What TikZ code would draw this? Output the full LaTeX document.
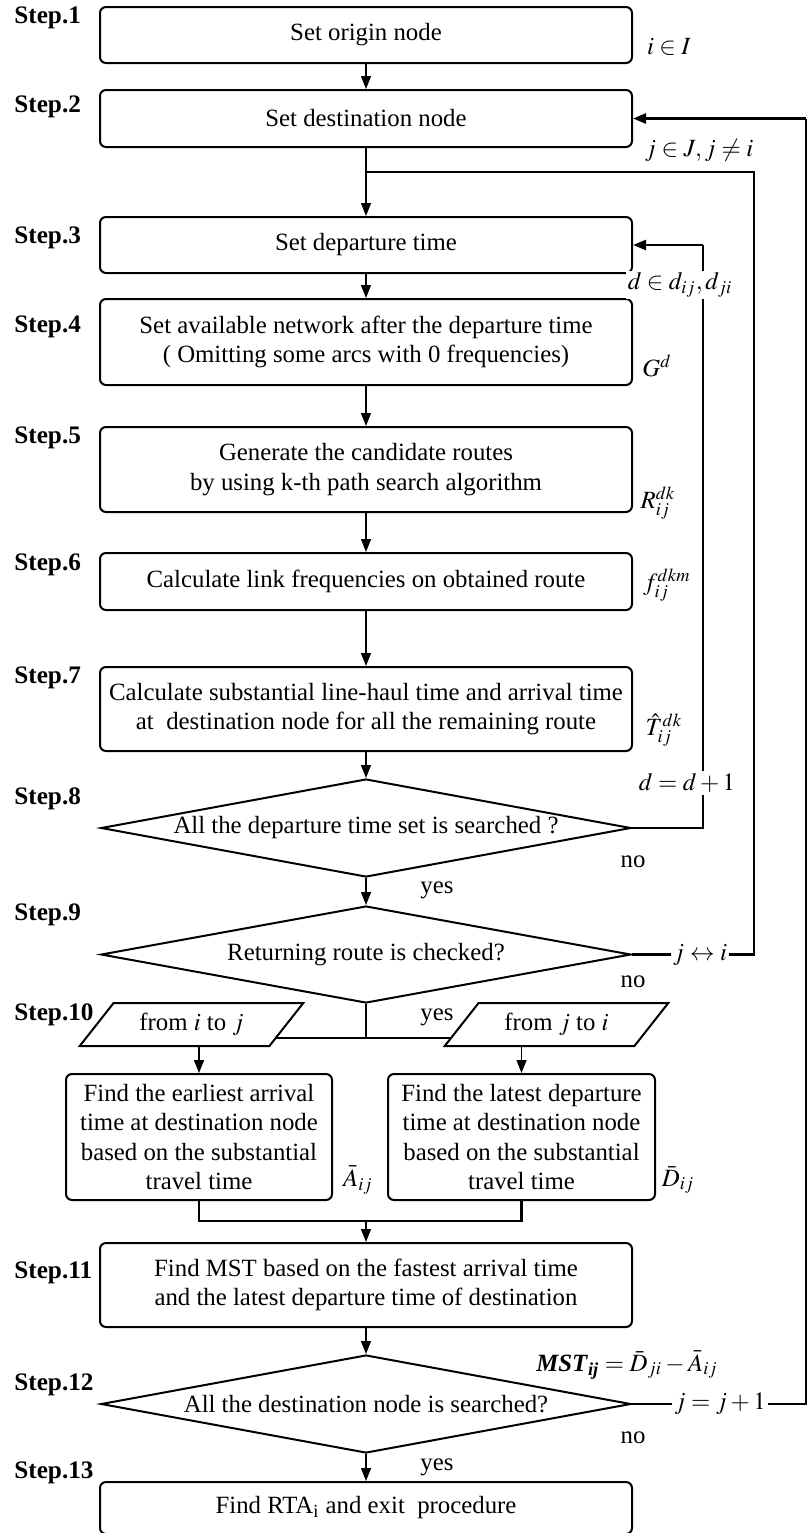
\documentclass[tikz,border=0pt]{standalone}
\usepackage{amsmath}
\usepackage{mathptmx}
\usepackage[no-math]{fontspec}
\setmainfont{Liberation Serif}
\usetikzlibrary{shapes.geometric,arrows.meta,backgrounds}

\begin{document}
\begin{tikzpicture}[x=0.5pt,y=-0.5pt,
		font=\fontsize{12.4}{14.7}\selectfont,
		box/.style={draw,rounded corners=3pt,line width=1pt,minimum width=266pt,inner sep=0pt,align=center},
		ask/.style={draw,diamond,aspect=5.4,line width=1pt,minimum width=265pt,minimum height=49pt,inner sep=0pt},
		io/.style={draw,trapezium,trapezium left angle=45,trapezium right angle=135,trapezium stretches=true,line width=1pt,minimum width=112.5pt,minimum height=21.5pt,inner sep=0pt,fill=white},
		flow/.style={line width=0.7pt,-{Triangle[length=6.5pt,width=5pt]}},
		back/.style={line width=1.2pt},
		lbl/.style={fill=white,inner sep=1pt}]
		\useasboundingbox (0,0) rectangle (810,1533);
		
		\foreach \n/\y in {1/18,2/107,3/238,4/327,5/438,6/565,7/678,8/799,9/915,10/1015,11/1273,12/1385,13/1473}
		{
			\node[anchor=west,inner sep=0pt,font=\fontsize{12.6}{14.7}\selectfont\bfseries] (step\n) at (14,\y) {Step.\n};
		}
		
		\node[box,minimum height=28pt] (b1) at (366,35) {Set origin node};
		\node[box,minimum height=28.5pt] (b2) at (366,118.5) {Set destination node};
		\node[box,minimum height=28pt] (b3) at (366,245) {Set departure time};
		\node[box,minimum height=43pt] (b4) at (366,342) {Set available network after the departure time\\( Omitting some arcs with 0 frequencies)};
		\node[box,minimum height=42.5pt] (b5) at (366,469.5) {Generate the candidate routes\\by using k-th path search algorithm};
		\node[box,minimum height=28.5pt] (b6) at (366,581.5) {Calculate link frequencies on obtained route};
		\node[box,minimum height=42pt] (b7) at (366,709) {Calculate substantial line-haul time and arrival time\\at\ \ destination node for all the remaining route};
		\node[ask] (d8) at (366,828) {All the departure time set is searched ?};
		\node[ask,minimum height=48.5pt] (d9) at (366,954.5) {Returning route is checked?};
		\node[io] (p1) at (191.5,1024.5) {from $i$ to $j$};
		\node[io] (p2) at (556.5,1024.5) {from $j$ to $i$};
		\node[box,minimum width=133pt,minimum height=63pt] (bA) at (199,1137) {Find the earliest arrival\\time at destination node\\based on the substantial\\travel time};
		\node[box,minimum width=133.5pt,minimum height=63pt] (bB) at (521.5,1137) {Find the latest departure\\time at destination node\\based on the substantial\\travel time};
		\node[box,minimum height=42pt] (b11) at (366,1285) {Find MST based on the fastest arrival time\\and the latest departure time of destination};
		\node[ask] (d12) at (366,1404) {All the destination node is searched?};
		\node[box,minimum height=26pt] (b13) at (366,1508) {Find RTA\textsubscript{i} and exit\ \ procedure};
		
		\coordinate (split) at (366,1038);
		\coordinate (merge) at (366,1221);
		\coordinate (r8) at (703,245);
		\coordinate (r9) at (754,172);
		\coordinate (j9) at (366,172);
		\coordinate (r12) at (806,118.5);
		
		% main line
		\draw[flow] (b1) -- (b2);
		\draw[flow] (b2) -- (b3);
		\draw[flow] (b3) -- (b4);
		\draw[flow] (b4) -- (b5);
		\draw[flow] (b5) -- (b6);
		\draw[flow] (b6) -- (b7);
		\draw[flow] (b7) -- (d8);
		\draw[flow] (d8) -- (d9);
		\draw[line width=0.7pt] (d9.south) -- (split);
		\begin{scope}[on background layer]
			\draw[back] (split -| p1.center) -- (split -| p2.center);
		\end{scope}
		\draw[flow] (p1.south -| bA.north) -- (bA.north);
		\draw[flow] (p2.south -| bB.north) -- (bB.north);
		\draw[back] (bA.south) |- (merge) -| (bB.south);
		\draw[flow] (merge) -- (b11);
		\draw[flow] (b11) -- (d12);
		\draw[flow] (d12) -- (b13);
		
		% loops back
		\draw[back] (d8.east) -| (r8);
		\draw[back,-{Triangle[length=6.5pt,width=5pt]}] (r8) -- (b3.east);
		\draw[back] (d9.east) -| (r9) -- (j9);
		\draw[back] (d12.east) -| (r12);
		\draw[back,-{Triangle[length=6.5pt,width=5pt]}] (r12) -- (b2.east);
		
		\node[inner sep=1pt] (lI) at (669,47) {$i\in I$};
		\node[inner sep=1pt] (lJ) at (699,150) {$j\in J, j\neq i$};
		\node[lbl] (lD) at (680,285) {$d\in d_{ij}, d_{ji}$};
		\node[inner sep=1pt] (lG) at (657,366) {$G^{d}$};
		\node[inner sep=1pt] (lR) at (658,503) {$R_{ij}^{dk}$};
		\node[inner sep=1pt] (lf) at (667,585) {$f_{ij}^{dkm}$};
		\node[inner sep=1pt] (lT) at (664,730) {$\hat{T}_{ij}^{dk}$};
		\node[lbl] (ld) at (687,783) {$d=d+1$};
		\node[lbl] (lji) at (700,955) {$j\leftrightarrow i$};
		\node[lbl] (lj) at (720,1404) {$j=j+1$};
		\node[inner sep=1pt] (lA) at (358,1180) {$\bar{A}_{ij}$};
		\node[inner sep=1pt] (lB) at (678,1180) {$\bar{D}_{ij}$};
		\node[inner sep=1pt] (lM) at (627,1365) {$\textbf{\textit{MST}}_{\textbf{\textit{ij}}}=\bar{D}_{ji}-\bar{A}_{ij}$};
		
		\node (no8) at (633,862) {no};
		\node (no9) at (633,982) {no};
		\node (no12) at (633,1438) {no};
		\node (yes8) at (437,890) {yes};
		\node (yes9) at (437,1017) {yes};
		\node (yes12) at (437,1467) {yes};
\end{tikzpicture}
\end{document}
